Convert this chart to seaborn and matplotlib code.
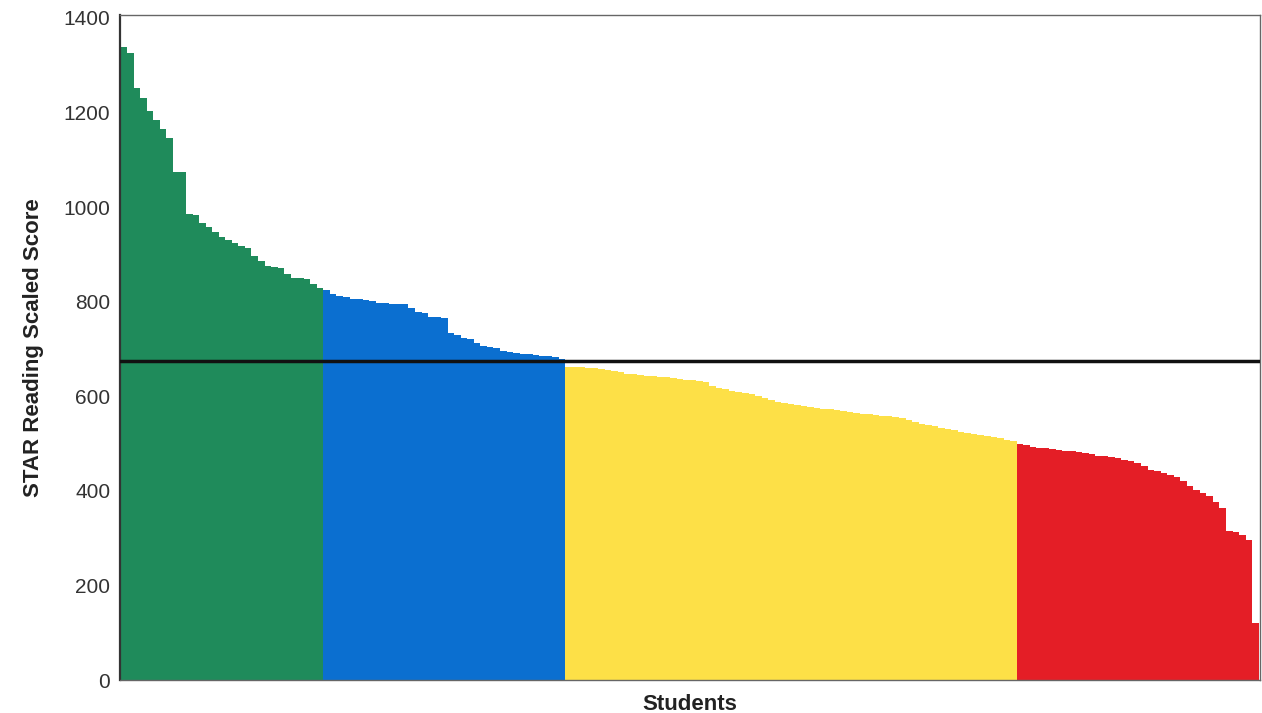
import numpy as np
import pandas as pd
import seaborn as sns
import matplotlib.pyplot as plt

# Scores, sorted high to low, split by band
green_scores = [1339, 1325, 1251, 1230, 1202, 1184, 1166, 1145, 1075, 1075,
                985, 983, 967, 957, 948, 937, 930, 923, 917, 913,
                896, 886, 876, 874, 872, 858, 851, 850, 847, 837, 828]
blue_scores = [824, 817, 812, 809, 805, 805, 804, 802, 798, 797,
               796, 796, 795, 786, 779, 775, 768, 767, 766, 734,
               729, 724, 720, 713, 707, 705, 701, 696, 694, 692,
               690, 689, 687, 685, 684, 682, 678]
yellow_scores = [662, 662, 661, 660, 659, 657, 655, 653, 651, 648,
                 646, 645, 643, 642, 641, 640, 638, 636, 635, 634,
                 633, 631, 622, 618, 615, 612, 609, 607, 604, 600,
                 596, 592, 588, 586, 584, 582, 580, 578, 576, 574,
                 572, 570, 568, 566, 565, 563, 562, 561, 559, 558,
                 557, 553, 549, 545, 542, 539, 536, 533, 531, 528,
                 525, 522, 520, 517, 515, 513, 511, 508, 505]
red_scores = [499, 497, 493, 491, 490, 489, 487, 485, 484, 482,
              479, 477, 474, 473, 471, 469, 466, 463, 458, 452,
              445, 442, 438, 433, 430, 420, 410, 402, 395, 388,
              377, 363, 314, 312, 307, 296, 120]
benchmark = 675

bands = ['green', 'blue', 'yellow', 'red']
band_colors = {'green': '#1f8b5b', 'blue': '#0b6fd0',
               'yellow': '#fde047', 'red': '#e41e26'}

scores = green_scores + blue_scores + yellow_scores + red_scores
band = (['green'] * len(green_scores) + ['blue'] * len(blue_scores)
        + ['yellow'] * len(yellow_scores) + ['red'] * len(red_scores))
df = pd.DataFrame({'student': np.arange(len(scores)), 'score': scores, 'band': band})

sns.set_style('white')
plt.rcParams['font.family'] = ['Liberation Sans', 'DejaVu Sans']

fig = plt.figure(figsize=(12.62, 7.13), dpi=100)
ax = fig.add_axes([120 / 1262, 1 - 680 / 713, 1140 / 1262, 665 / 713])

sns.barplot(data=df, x='student', y='score', hue='band', hue_order=bands,
            palette=band_colors, dodge=False, width=1.0, linewidth=0,
            saturation=1, legend=False, ax=ax)
ax.axhline(benchmark, color='#111111', lw=2.5, zorder=5)

n = len(scores)
ax.set_xlim(-0.6, n - 0.3)
ax.set_ylim(0, 1406)
ax.set_yticks(range(0, 1401, 200))
ax.set_xticks([])
ax.tick_params(axis='y', labelsize=15, labelcolor='#333333', length=0, pad=7)
ax.set_ylabel('STAR Reading Scaled Score', fontsize=16, fontweight='bold',
              color='#222222', labelpad=14)
ax.set_xlabel('Students', fontsize=16, fontweight='bold', color='#222222',
              labelpad=10)
for side, sp in ax.spines.items():
    sp.set_visible(True)
    sp.set_color('#666666')
    sp.set_linewidth(1.0)
ax.spines['left'].set_color('#333333')
ax.spines['left'].set_linewidth(1.6)

plt.savefig('out.png', dpi=100)
plt.close()
